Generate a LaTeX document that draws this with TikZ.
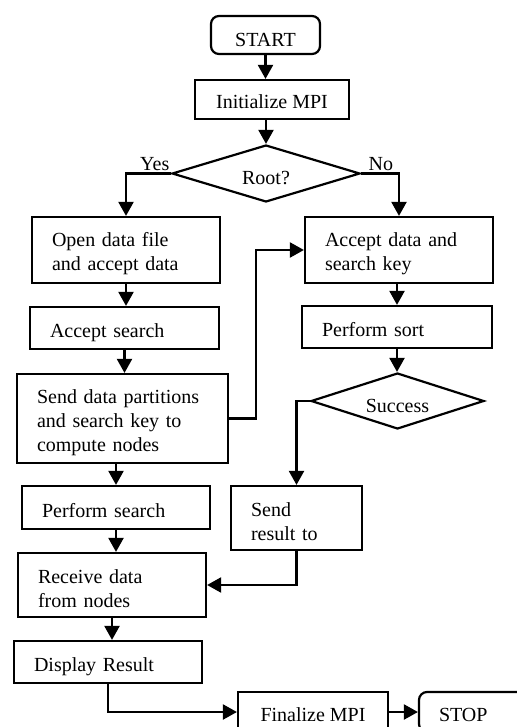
\documentclass[tikz,border=0pt]{standalone}
\usepackage{fontspec}
\setmainfont{Liberation Serif}
\usetikzlibrary{shapes.geometric,arrows.meta}

\begin{document}
\begin{tikzpicture}[x=0.5pt, y=-0.5pt, line width=1.1pt,
  font=\fontsize{10}{12}\selectfont,
  >={Triangle[width=7.5pt,length=7pt]},
  box/.style={draw, rectangle, inner xsep=10pt, inner ysep=0pt, align=left, text height=9.5pt, text depth=0pt},
  tbox/.style={draw, rectangle, inner xsep=10pt, inner ysep=0pt, align=left, text height=11pt},
  cbox/.style={draw, rectangle, inner sep=0pt, text height=9.5pt, text depth=0pt},
  term/.style={cbox, rounded corners=4pt},
  test/.style={draw, diamond, inner sep=0pt, shape aspect=3, text height=11pt, text depth=0pt}]
\useasboundingbox (0,0) rectangle (517,727);
\clip (0,0) rectangle (517,727);

%start
\node[term, minimum width=54.5pt, minimum height=19pt, text height=12pt] (start) at (265.5,35) {START};
\node[cbox, minimum width=77pt, minimum height=19.5pt] (init) at (272,99.5) {Initialize MPI};
\node[test, minimum width=94pt, minimum height=28.5pt] (root) at (266,173.5) {Root?};

%root side
\node[tbox, text width=74pt, minimum height=33pt] (open) at (126,250) {Open data file\\and accept data};
\node[box, text width=74.5pt, minimum height=21pt] (search) at (124.5,328) {Accept search};
\node[tbox, text width=85.5pt, minimum height=44.5pt] (send) at (122.5,418.5) {Send data partitions\\and search key to\\compute nodes};
\node[box, text width=74pt, minimum height=21.5pt] (psearch) at (116,507.5) {Perform search};
\node[tbox, text width=74pt, minimum height=32pt] (receive) at (112,585) {Receive data\\from nodes};
\node[box, text width=74pt, minimum height=21pt] (display) at (108,662) {Display Result};

%compute node side
\node[tbox, text width=74pt, minimum height=33pt] (acceptkey) at (399,250) {Accept data and\\search key};
\node[box, text width=75pt, minimum height=21pt] (sort) at (397,327) {Perform sort};
\node[test, minimum width=86.5pt, minimum height=28pt] (success) at (397.5,401) {Success};
\node[tbox, text width=45.5pt, minimum height=32pt] (result) at (296.5,518) {Send\\result to};

%end
\node[cbox, minimum width=75pt, minimum height=20pt] (finalize) at (313,712) {Finalize MPI};
\node[term, box, text width=40pt, minimum height=20pt] (stop) at (479,712) {STOP};

%flow
\draw[->] (start) -- (start |- init.north);
\draw[->] (root.north |- init.south) -- (root.north);
\draw[->] (root.west) -| node[pos=0.18, above, inner sep=1pt] (yes) {Yes} (open.north);
\draw[->] (root.east) -| node[pos=0.26, above, inner sep=1pt] (no) {No} (acceptkey.north);
\draw[->] (open) -- (open |- search.north);
\draw[->] (search) -- (search |- send.north);
\draw[->] (send.east) -- ++(27,0) |- (acceptkey.west);
\draw[->] (sort.north |- acceptkey.south) -- (sort.north);
\draw[->] (sort) -- (sort |- success.north);
\draw[->] (success.west) -| (result.north);
\draw[->] (psearch.north |- send.south) -- (psearch.north);
\draw[->] (psearch) -- (psearch |- receive.north);
\draw[->] (result) |- (receive);
\draw[->] (receive) -- (receive |- display.north);
\draw[->] (display) |- (finalize);
\draw[->] (finalize) -- (stop);
\end{tikzpicture}
\end{document}
